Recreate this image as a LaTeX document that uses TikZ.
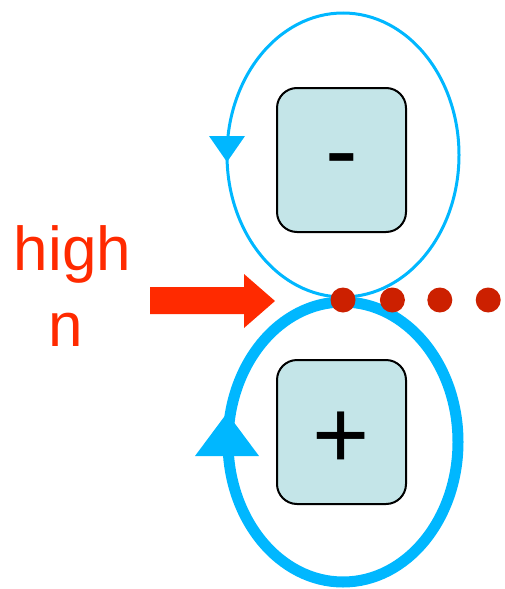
\documentclass[tikz,border=0pt]{standalone}
\usepackage{fontspec}
\setmainfont{Liberation Sans}
\usepackage{xcolor}
\usetikzlibrary{positioning,calc}

\definecolor{loopblue}{RGB}{0,183,255}
\definecolor{boxfill}{RGB}{196,229,232}
\definecolor{hotred}{RGB}{255,42,0}
\definecolor{dotred}{RGB}{204,32,0}

\begin{document}
\begin{tikzpicture}[
    x=1pt, y=-1pt,
    state/.style={rectangle, draw, line width=2pt, rounded corners=20pt, fill=boxfill, minimum width=129pt, minimum height=144pt, inner sep=0pt, text depth=0pt, font=\fontsize{98}{98}\selectfont},
    thinloop/.style={draw=loopblue, line width=3pt},
    thickloop/.style={draw=loopblue, line width=11pt},
    label/.style={text=hotred, inner sep=0pt, font=\fontsize{62}{76}\selectfont},
    dot/.style={circle, fill=dotred, minimum size=25pt, inner sep=0pt}
]
\useasboundingbox (0,0) rectangle (504,589);

% Nodes
\node[state, text height=47pt] (minus) at (341.5,160) {-};
\node[state, text height=72pt] (plus) at (341.5,432) {+};
\node[label, anchor=base] (high) at (72.5,270) {high};
\node[label, anchor=base] (n) at (66,346) {n};

% Loops
\draw[thinloop] (343,155) ellipse [x radius=116, y radius=142];
\draw[thickloop] (343,442) ellipse [x radius=115, y radius=140];

% Arrow heads on the loops
\coordinate (tipminus) at (227,162);
\coordinate (tipplus) at (227,413);
\fill[loopblue] (tipminus) -- ++(-18,-26) -- ++(36,0) -- cycle;
\fill[loopblue] (tipplus) -- ++(-32,43) -- ++(64,0) -- cycle;

% Dots
\node[dot] (d1) at (343,300) {};
\node[dot, right=24pt of d1] (d2) {};
\node[dot, right=22pt of d2] (d3) {};
\node[dot, right=23pt of d3] (d4) {};

% Block arrow
\fill[hotred] (150,287) -- (244,287) -- (244,274) -- (275,301) -- (244,328) -- (244,314) -- (150,314) -- cycle;

\end{tikzpicture}
\end{document}
